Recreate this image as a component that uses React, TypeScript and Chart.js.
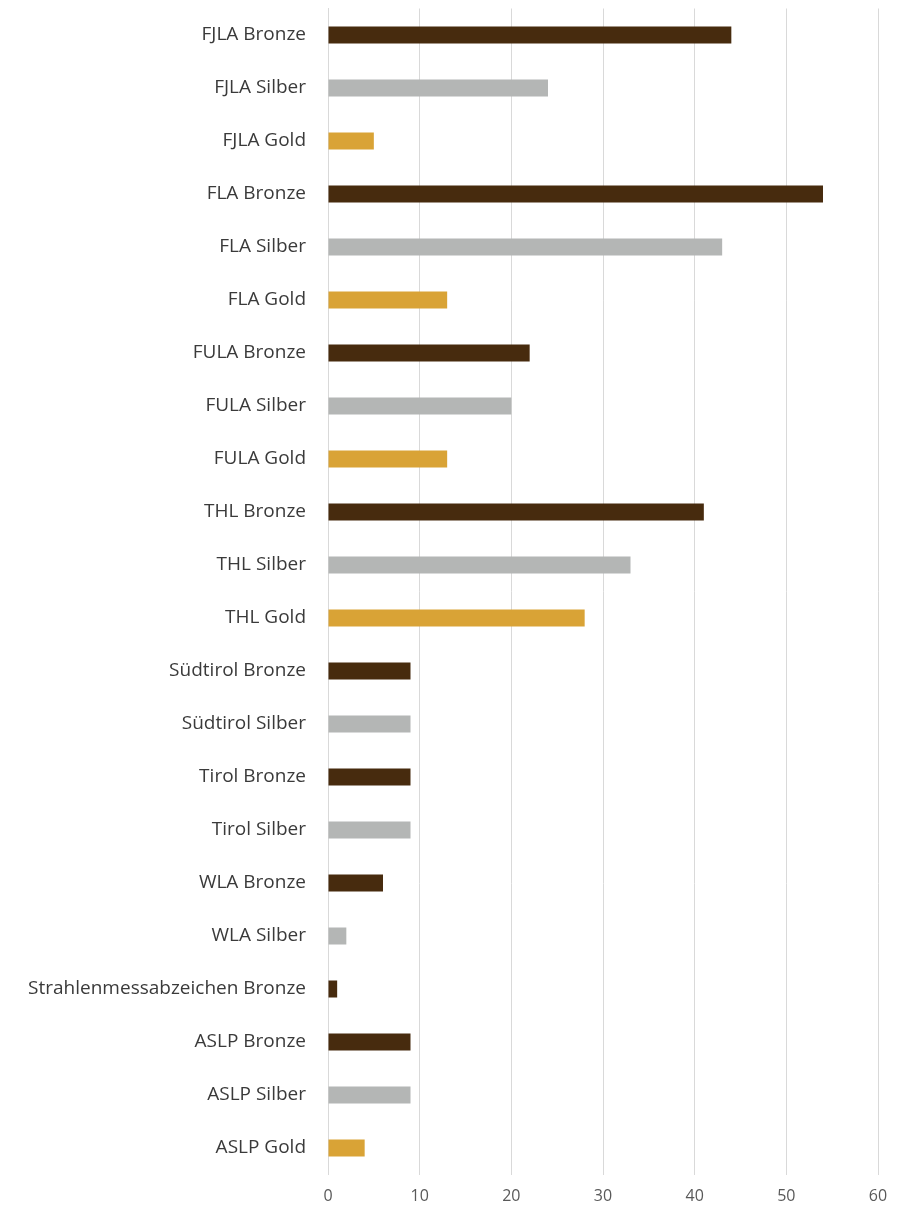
import React, { useEffect, useRef } from "react";
import { Chart, registerables } from "chart.js";

Chart.register(...registerables);

const categories = [
  "FJLA Bronze", "FJLA Silber", "FJLA Gold",
  "FLA Bronze", "FLA Silber", "FLA Gold",
  "FULA Bronze", "FULA Silber", "FULA Gold",
  "THL Bronze", "THL Silber", "THL Gold",
  "Südtirol Bronze", "Südtirol Silber",
  "Tirol Bronze", "Tirol Silber",
  "WLA Bronze", "WLA Silber",
  "Strahlenmessabzeichen Bronze",
  "ASLP Bronze", "ASLP Silber", "ASLP Gold",
];

const values = [
  44, 24, 5,
  54, 43, 13,
  22, 20, 13,
  41, 33, 28,
  9, 9,
  9, 9,
  6, 2,
  1,
  9, 9, 4,
];

const xTicks = [0, 10, 20, 30, 40, 50, 60];

const medalColors: Record<string, string> = {
  Bronze: "#472b0e",
  Silber: "#b4b6b5",
  Gold: "#d9a336",
};

export default function App() {
  const ref = useRef<HTMLCanvasElement | null>(null);

  useEffect(() => {
    document.body.style.margin = "0";
    const ctx = ref.current;
    if (!ctx) return;
    const colors = categories.map((c) => {
      const k = c.split(" ").pop() as string;
      return medalColors[k];
    });
    const chart = new Chart(ctx, {
      type: "bar",
      data: {
        labels: categories,
        datasets: [
          {
            data: values,
            backgroundColor: colors,
            borderWidth: 0,
            barPercentage: 0.32,
            categoryPercentage: 1,
          },
        ],
      },
      options: {
        indexAxis: "y",
        animation: false,
        responsive: false,
        maintainAspectRatio: false,
        layout: { padding: { top: 8.5, right: 28, bottom: 0, left: 0 } },
        plugins: {
          legend: { display: false },
          tooltip: { enabled: false },
        },
        scales: {
          x: {
            min: 0,
            max: 60,
            afterBuildTicks: (axis: any) => {
              axis.ticks = xTicks.map((v) => ({ value: v }));
            },
            afterFit: (axis: any) => {
              axis.height = 36.5;
              axis.paddingLeft = 0;
              axis.paddingRight = 0;
            },
            grid: {
              color: "#d9d9d9",
              lineWidth: 1,
              drawTicks: false,
            },
            border: { display: false },
            ticks: {
              padding: 12,
              color: "#595959",
              font: { family: "'Open Sans', 'Noto Sans', sans-serif", size: 16 },
            },
          },
          y: {
            afterFit: (axis: any) => {
              axis.width = 328;
              axis.paddingTop = 0;
              axis.paddingBottom = 0;
            },
            grid: { display: false, drawTicks: false },
            border: { display: true, color: "#d9d9d9", width: 1 },
            ticks: {
              padding: 22,
              autoSkip: false,
              color: "#3a3a3a",
              font: { family: "'Open Sans', 'Noto Sans', sans-serif", size: 19 },
            },
          },
        },
      },
    });
    return () => chart.destroy();
  }, []);

  return (
    <div style={{ position: "absolute", left: 0, top: 0, width: 906, height: 1211, background: "#fff" }}>
      <canvas ref={ref} width={906} height={1211} style={{ width: 906, height: 1211 }} />
    </div>
  );
}
